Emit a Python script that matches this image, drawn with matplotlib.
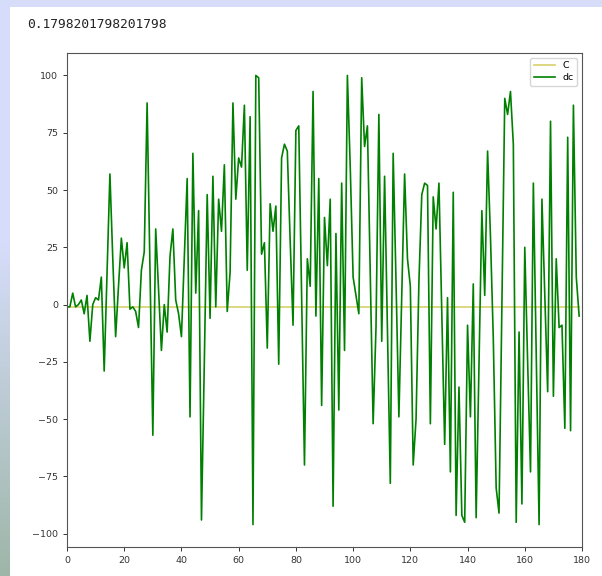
import numpy as np
import matplotlib
matplotlib.use("Agg")
import matplotlib.pyplot as plt
from matplotlib.patches import Rectangle

# printed result shown above the chart
result_text = "0.1798201798201798"

# difference series, one value per step
dc = [
    -1, -1, 5, -1, 0, 2, -4, 4, -16, 0,
    3, 2, 12, -29, 14, 57, 20, -14, 8, 29,
    16, 27, -2, -1, -3, -10, 15, 23, 88, 15,
    -57, 33, 6, -20, 0, -12, 21, 33, 2, -4,
    -14, 20, 55, -49, 66, 5, 41, -94, -25, 48,
    -6, 56, -1, 46, 32, 61, -3, 14, 88, 46,
    64, 60, 87, 15, 82, -96, 100, 99, 22, 27,
    -19, 44, 32, 43, -26, 64, 70, 67, 28, -9,
    76, 78, 5, -70, 20, 8, 93, -5, 55, -44,
    38, 17, 46, -88, 31, -46, 53, -20, 100, 60,
    12, 4, -4, 99, 69, 78, 13, -52, -10, 83,
    -16, 56, -10, -78, 66, 10, -49, 5, 57, 20,
    8, -70, -50, 10, 48, 53, 52, -52, 47, 33,
    53, -5, -61, 3, -73, 49, -92, -36, -92, -95,
    -9, -49, 9, -93, -26, 41, 4, 67, 30, -15,
    -80, -91, 0, 90, 83, 93, 70, -95, -12, -87,
    25, -25, -73, 53, -22, -96, 46, 4, -38, 80,
    -40, 20, -10, -9, -54, 73, -55, 87, 12, -5,
]
# constant reference level
c_level = -1

steps = np.arange(len(dc))
c_series = np.full(len(dc), c_level)

W, H = 602, 576
fig = plt.figure(figsize=(W / 100, H / 100), dpi=100, facecolor="#d7ddf9")

# notebook-style backdrop: gradient strip on the left, white output cell
grad_ax = fig.add_axes([0, 0, 10 / W, 1], zorder=-2)
top_col = np.array([214, 221, 250]) / 255
bot_col = np.array([158, 182, 168]) / 255
t = np.linspace(0, 1, 256)
mix = np.clip((t - 0.42) / 0.58, 0, 1)[:, None]
grad = top_col * (1 - mix) + bot_col * mix
grad_ax.imshow(grad[:, None, :], aspect="auto", extent=[0, 1, 1, 0])
grad_ax.set_axis_off()
fig.patches.append(Rectangle((10 / W, 0), 1 - 10 / W, 1 - 7 / H,
                             transform=fig.transFigure, facecolor="white",
                             edgecolor="none", zorder=-1))

fig.text(27 / W, 1 - 24 / H, result_text, family="DejaVu Sans Mono",
         fontsize=9.3, va="center", ha="left", color="#222222")

ax = fig.add_axes([67 / W, 29 / H, 515 / W, 494 / H])
ax.plot(steps, c_series, color="#d8cf6c", lw=1.2, label="C")
ax.plot(steps, dc, color="green", lw=1.2, label="dc")
ax.set_xlim(0, 180)
ax.set_yticks([-100, -75, -50, -25, 0, 25, 50, 75, 100])
ax.tick_params(labelsize=6.8, length=3, width=0.7, colors="#333333")
for s in ax.spines.values():
    s.set_color("#555555")
    s.set_linewidth(0.8)
ax.legend(loc="upper right", fontsize=6.8, handlelength=2.2, borderpad=0.4,
          labelspacing=0.3)

fig.savefig("out.png", dpi=100, facecolor=fig.get_facecolor())
